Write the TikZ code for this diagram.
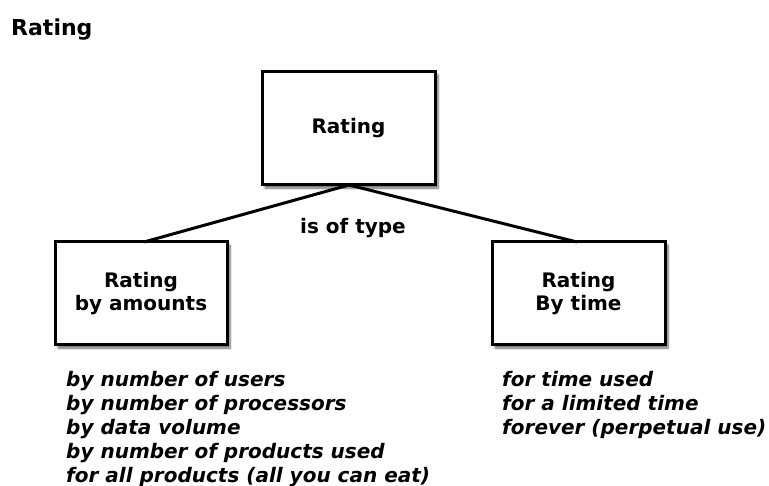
\documentclass[tikz,border=0pt]{standalone}
\usepackage{fontspec}
\setmainfont{DejaVu Sans}
\usetikzlibrary{shadows.blur}
\begin{document}
\begin{tikzpicture}[x=1pt,y=-1pt,
  box/.style={draw=black,line width=3pt,fill=white,blur shadow={shadow xshift=3pt,shadow yshift=-3pt,shadow blur steps=6,shadow opacity=60},font=\fontsize{20}{23}\selectfont\bfseries,align=center,inner sep=0pt},
  conn/.style={line width=3pt},
  lst/.style={font=\fontsize{20}{24}\selectfont\bfseries\itshape,align=left,anchor=north west,inner sep=0pt}]
\useasboundingbox (0,0) rectangle (769,486);
\node[font=\fontsize{22}{24}\selectfont\bfseries,anchor=west,inner sep=0pt] (title) at (11,30) {Rating};
\node[box,minimum width=173pt,minimum height=113pt] (top) at (348.5,128.5) {Rating};
\node[box,minimum width=172pt,minimum height=103pt] (left) at (141,293.5) {Rating\\by amounts};
\node[box,minimum width=173pt,minimum height=103pt] (right) at (578.5,293.5) {Rating\\By time};
\coordinate (tb) at (349,185);
\coordinate (lt) at (144,242);
\coordinate (rt) at (577,242);
\draw[conn] (lt) -- (tb) -- (rt);
\node[font=\fontsize{20}{24}\selectfont\bfseries,inner sep=0pt] (type) at (353,228) {is of type};
\node[lst] (l1) at (66,371) {by number of users\\by number of processors\\by data volume\\by number of products used\\for all products (all you can eat)};
\node[lst] (l2) at (502,371) {for time used\\for a limited time\\forever (perpetual use)};
\end{tikzpicture}
\end{document}
